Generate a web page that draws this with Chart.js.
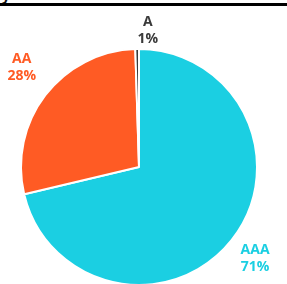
<!DOCTYPE html>
<html lang="en">
<head>
    <meta charset="UTF-8">
    <title>Rating distribution</title>
    <script src="https://cdn.jsdelivr.net/npm/chart.js"></script>
    <style>
        body {
            margin: 0;
            width: 287px;
            height: 284px;
            overflow: hidden;
            background: #fff;
            position: relative;
            font-family: 'Open Sans', sans-serif;
        }
        .cut-title {
            position: absolute;
            left: 2px;
            top: -14px;
            font-size: 14px;
            font-weight: 700;
            color: #111;
        }
        .rule {
            position: absolute;
            left: 0;
            top: 3px;
            width: 287px;
            height: 3px;
            background: #000;
        }
        .wrap {
            position: absolute;
            left: 0;
            top: 0;
            width: 287px;
            height: 300px;
        }
    </style>
</head>
<body>
    <div class="cut-title">y</div>
    <div class="rule"></div>
    <div class="wrap"><canvas id="pie" width="287" height="300"></canvas></div>

    <script>
        // chart data
        const labels = ['AAA', 'AA', 'A'];
        const shares = [71.3, 28.2, 0.5];
        const colors = ['#1bcfe2', '#ff5b24', '#3a3a3a'];

        // draws "name / pct%" outside each slice
        const outsideLabels = {
            id: 'outsideLabels',
            afterDatasetsDraw(chart) {
                const c = chart.ctx;
                const arcs = chart.getDatasetMeta(0).data;
                const extra = [30, 36, 19];
                const shiftX = [0, 5, 11];
                const shiftY = [0, -6, 0];
                c.save();
                c.font = '700 14px "Open Sans", sans-serif';
                c.textAlign = 'center';
                c.textBaseline = 'middle';
                arcs.forEach((arc, i) => {
                    const mid = (arc.startAngle + arc.endAngle) / 2;
                    const r = arc.outerRadius + extra[i];
                    const x = arc.x + Math.cos(mid) * r + shiftX[i];
                    const y = arc.y + Math.sin(mid) * r + shiftY[i];
                    c.fillStyle = colors[i];
                    c.fillText(labels[i], x, y - 8.5);
                    c.fillText(Math.round(shares[i]) + '%', x, y + 8.5);
                });
                c.restore();
            }
        };

        new Chart(document.getElementById('pie'), {
            type: 'pie',
            data: {
                labels: labels,
                datasets: [{
                    data: shares,
                    backgroundColor: colors,
                    borderColor: '#fff',
                    borderWidth: 2
                }]
            },
            options: {
                responsive: false,
                animation: false,
                layout: { padding: { top: 48, bottom: 14, left: 0, right: 9 } },
                plugins: {
                    legend: { display: false },
                    tooltip: { enabled: false }
                }
            },
            plugins: [outsideLabels]
        });
    </script>
</body>
</html>
